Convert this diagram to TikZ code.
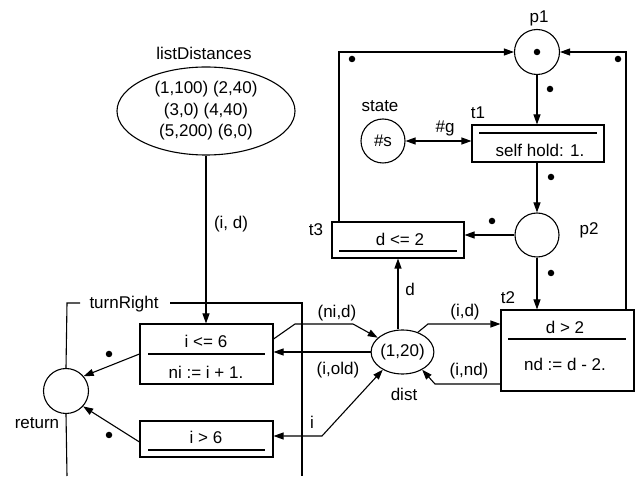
\documentclass[tikz,border=0pt]{standalone}
\usepackage{fontspec}
\setmainfont{Liberation Sans}
\usetikzlibrary{shapes.geometric,arrows.meta}
\begin{document}
\begin{tikzpicture}[x=1pt,y=-1pt,
  every node/.style={font=\fontsize{17}{21.5}\selectfont, inner sep=0pt},
  ln/.style={line width=1.1pt},
  arr/.style={ln,-{Triangle[length=10pt,width=7pt]}},
  darr/.style={ln,{Triangle[length=10pt,width=7pt]}-{Triangle[length=10pt,width=7pt]}},
  place/.style={circle,draw,line width=1.1pt,minimum size=45pt},
  trans/.style={rectangle,draw,line width=1.1pt},
  tok/.style={circle,fill,minimum size=6.5pt}]
\useasboundingbox (0,0) rectangle (638,478);
% places
\node[ellipse,draw,line width=1.1pt,minimum width=178pt,minimum height=88pt,align=center] (listD) at (206,111)
  {(1,100) (2,40)\\(3,0) (4,40)\\(5,200) (6,0)};
\node (listDlab) at (204,53) {listDistances};
\node[place] (p1) at (537,52) {};
\node (p1lab) at (539,18) {p1};
\node[place,minimum size=44pt] (state) at (383,141) {\#s};
\node (statelab) at (380,106) {state};
\node[place,minimum size=44pt] (p2) at (537,235) {};
\node (p2lab) at (589,230) {p2};
\node[place] (ret) at (66,391) {};
\node (retlab) at (37,423) {return};
\node[ellipse,draw,line width=1.1pt,minimum width=59pt,minimum height=44pt] (dist) at (402.5,352) {(1,20)};
\node (distlab) at (404,394) {dist};
% transitions
\node[trans,minimum width=132pt,minimum height=37pt] (t1) at (538,143.5) {};
\node (t1lab) at (478,113) {t1};
\node (t1act) at (540,150) {self hold: 1.};
\draw[ln] (479,133) -- (597,133);
\node[trans,minimum width=132pt,minimum height=36pt] (t3) at (398,240) {};
\node (t3lab) at (316,230) {t3};
\node (t3grd) at (400,239) {d <= 2};
\draw[ln] (339,251) -- (457,251);
\node[trans,minimum width=133pt,minimum height=81pt] (t2) at (567.5,350.5) {};
\node (t2lab) at (508,298) {t2};
\node (t2grd) at (565,327) {d > 2};
\node (t2act) at (565,364) {nd := d - 2.};
\draw[ln] (508,339) -- (626,339);
\node[trans,minimum width=133pt,minimum height=60pt] (le6) at (206.5,354) {};
\node (le6grd) at (206,341) {i <= 6};
\node (le6act) at (206,372) {ni := i + 1.};
\draw[ln] (148,354) -- (265,354);
\node[trans,minimum width=133pt,minimum height=36pt] (gt6) at (206.5,439) {};
\node (gt6grd) at (206,437) {i > 6};
\draw[ln] (148,450) -- (265,450);
% turnRight frame
\node (trlab) at (124,304) {turnRight};
\coordinate (fa) at (67,303);
\coordinate (fb) at (302,303);
\coordinate (fc) at (302,476);
\coordinate (fd) at (67,476);
\draw[ln] (ret.north) -- (fa) -- (80,303);
\draw[ln] (170,303) -- (fb) -- (fc);
\draw[ln] (ret.south) -- (fd);
% connectors
\draw[arr] (listD.south) -- (listD.south |- le6.north);
\node (idlab) at (231,224) {(i, d)};
\draw[arr] (p1.south) -- (p1.south |- t1.north);
\draw[arr] (t1.south -| p2.north) -- (p2.north);
\draw[darr] (state.east) -- (state.east -| t1.west);
\node (glab) at (445,128) {\#g};
\draw[arr] (p2.west) -- (p2.west -| t3.east);
\draw[arr] (p2.south) -- (p2.south |- t2.north);
\coordinate (c1) at (339,52);
\coordinate (c2) at (626,52);
\draw[arr] (c1 |- t3.north) -- (c1) -- (p1.west);
\draw[arr] (c2 |- t2.north) -- (c2) -- (p1.east);
\draw[arr] (t3.south |- dist.north) -- (t3.south);
\node (dlab) at (410,289) {d};
% (ni,d)
\coordinate (n1) at (295,324);
\coordinate (n2) at (353,324);
\draw[arr] ([yshift=15pt]le6.east) -- (n1) -- (n2) -- (dist.150);
\node (nidlab) at (337,313) {(ni,d)};
% (i,old)
\draw[arr] (dist.west) -- (dist.west -| le6.east);
\node (ioldlab) at (338,370) {(i,old)};
% i
\coordinate (i1) at (322,436);
\draw[darr] ([yshift=3pt]gt6.east) -- (i1) -- (dist.222);
\node (ilab) at (312,422) {i};
% (i,d) to t2
\coordinate (d1) at (428,324);
\draw[arr] (dist.52) -- (d1) -- (d1 -| t2.west);
\node (idlab2) at (465,312) {(i,d)};
% (i,nd)
\coordinate (e1) at (435,384);
\draw[arr] (e1 -| t2.west) -- (e1) -- (dist.-42);
\node (indlab) at (469,371) {(i,nd)};
% to return
\draw[arr] (le6.west) -- (ret.40);
\draw[arr] ([yshift=-3pt]gt6.west) -- (ret.-42);
% tokens
\node[tok] (k0) at (537,52) {};
\node[tok] (k1) at (352,59) {};
\node[tok] (k2) at (618,59) {};
\node[tok] (k3) at (550,89) {};
\node[tok] (k4) at (551,177) {};
\node[tok] (k5) at (492,221) {};
\node[tok] (k6) at (551,273) {};
\node[tok] (k7) at (109,354) {};
\node[tok] (k8) at (109,435) {};
\end{tikzpicture}
\end{document}
